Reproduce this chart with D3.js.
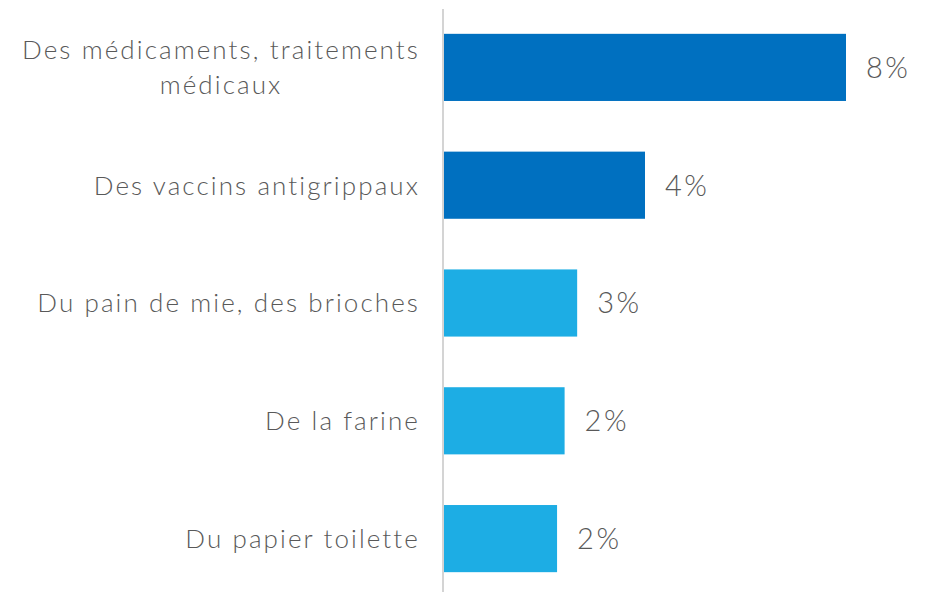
<!DOCTYPE html>
<html><head><meta charset="utf-8">
<script src="https://cdn.jsdelivr.net/npm/d3@7/dist/d3.min.js"></script>
<style>body{margin:0;background:#fff}svg{display:block}</style>
</head><body>
<script>
const categories = [["Des médicaments, traitements","médicaux"],["Des vaccins antigrippaux"],["Du pain de mie, des brioches"],["De la farine"],["Du papier toilette"]];
const values = [8.0, 4.0, 2.65, 2.4, 2.25];
const colors = ["#0070C0","#0070C0","#1DADE4","#1DADE4","#1DADE4"];

const W = 930, H = 592;
const svg = d3.select("body").append("svg").attr("width", W).attr("height", H);
const font = "Lato, 'Open Sans', sans-serif";
const textColor = "#595959";

const y = d3.scaleBand().domain(d3.range(categories.length)).range([8.5, 597.5]).paddingInner(0.43).paddingOuter(0.215);
const x = d3.scaleLinear().domain([0, 8]).range([444, 846]);

svg.selectAll("rect.bar").data(values).join("rect")
  .attr("class","bar")
  .attr("x", x(0)).attr("y", (d,i)=>y(i))
  .attr("width", d=>x(d)-x(0)).attr("height", y.bandwidth())
  .attr("fill", (d,i)=>colors[i]);

svg.append("line").attr("x1",443).attr("x2",443).attr("y1",9).attr("y2",H)
  .attr("stroke","#d4d4d4").attr("stroke-width",2);

svg.selectAll("text.val").data(values).join("text")
  .attr("class","val")
  .attr("x", d=>x(d)+20).attr("y",(d,i)=>y(i)+y.bandwidth()/2)
  .attr("dy","0.36em")
  .attr("font-family",font).attr("font-weight",300).attr("font-size",29)
  .attr("letter-spacing","2.5px")
  .attr("fill",textColor)
  .text(d=>Math.round(d)+"%");

const labelRight = 420, lineH = 35;
categories.forEach((lines,i)=>{
  const cy = y(i)+y.bandwidth()/2;
  const g = svg.append("g");
  const texts = lines.map((l,j)=>g.append("text")
    .attr("y", cy + (j-(lines.length-1)/2)*lineH)
    .attr("dy","0.36em")
    .attr("font-family",font).attr("font-weight",300).attr("font-size",26)
    .attr("letter-spacing","2.1px")
    .attr("fill",textColor).text(l));
  const widths = texts.map(t=>t.node().getComputedTextLength());
  const maxW = d3.max(widths);
  texts.forEach(t=>t.attr("text-anchor","middle").attr("x", labelRight - maxW/2));
});
</script>
</body></html>
